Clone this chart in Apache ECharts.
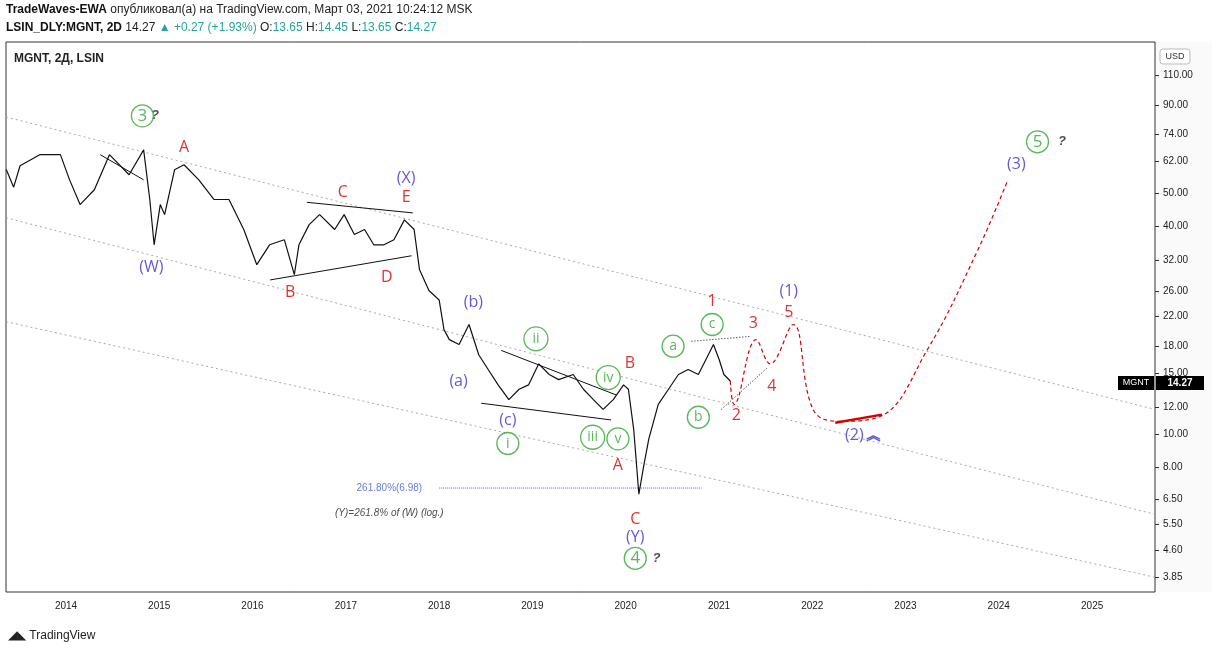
<!DOCTYPE html>
<html><head><meta charset="utf-8">
<script src="https://cdn.jsdelivr.net/npm/echarts@6/dist/echarts.min.js"></script>
<style>html,body{margin:0;padding:0;background:#fff;font-family:"Open Sans",Roboto,sans-serif}#c{width:1212px;height:657px}</style>
</head><body><div id="c"></div>
<script>
// price path (date, price)
const priceDates = ["2013-05-12","2013-06-10","2013-07-05","2013-09-20","2013-12-10","2014-01-15","2014-02-25","2014-04-22","2014-06-20","2014-09-05","2014-11-01","2014-11-25","2014-12-12","2015-01-05","2015-01-22","2015-03-02","2015-04-08","2015-06-05","2015-08-03","2015-10-01","2015-11-28","2016-01-18","2016-03-08","2016-05-05","2016-06-13","2016-07-01","2016-08-10","2016-09-20","2016-11-18","2016-12-25","2017-02-03","2017-03-15","2017-04-20","2017-05-30","2017-07-08","2017-08-18","2017-09-25","2017-10-16","2017-11-22","2018-01-01","2018-01-20","2018-02-10","2018-03-20","2018-04-28","2018-06-05","2018-07-12","2018-08-20","2018-10-01","2018-11-10","2018-12-17","2019-01-26","2019-03-08","2019-04-14","2019-06-10","2019-07-20","2019-08-28","2019-10-05","2019-11-14","2019-12-24","2020-01-12","2020-02-02","2020-02-22","2020-03-12","2020-04-01","2020-05-08","2020-06-17","2020-07-26","2020-09-02","2020-10-12","2020-11-20","2020-12-10","2021-01-01","2021-01-20","2021-02-14"];
const priceValues = [58.5,52.0,60.0,64.6,64.6,54.6,46.3,51.1,64.6,56.5,66.7,47.9,35.4,46.3,43.3,58.4,60.4,54.6,47.9,47.9,39.2,31.0,35.4,36.6,29.0,35.4,40.5,43.3,39.2,43.3,37.9,39.2,35.4,35.4,36.6,41.8,39.2,30.0,26.1,24.5,20.1,18.8,18.2,20.8,17.0,15.4,13.9,12.6,13.5,13.9,16.0,14.9,14.4,14.9,13.5,12.6,11.8,12.6,13.9,13.5,10.3,6.7,8.1,9.7,12.2,13.5,14.9,15.4,14.9,17.0,18.2,16.5,14.9,14.27];
// projected path
const projDates = ["2021-02-14","2021-03-01","2021-05-26","2021-07-20","2021-10-18","2022-01-04","2022-04-12","2022-09-16","2023-03-28","2023-10-12","2024-02-06"];
const projValues = [14.27,12.2,18.8,16.0,20.8,11.8,10.9,11.2,17.6,34.3,54.6];
// channel lines
const chanDates = ["2013-05-11","2025-09-04"];
const chan1 = [83.1,11.8];
const chan2 = [42.4,5.86];
const chan3 = [21.2,3.85];
// trend/triangle lines
const trendLines = [
 [["2014-05-15",64.6],["2014-11-01",54.6]],
 [["2016-08-01",47.0],["2017-09-20",43.8]],
 [["2016-03-10",28.0],["2017-09-15",32.9]],
 [["2018-09-01",17.5],["2019-11-25",13.0]],
 [["2018-06-15",12.3],["2019-11-05",11.0]]
];
const dottedLines = [
 [["2020-09-15",18.6],["2021-05-01",19.2]],
 [["2021-01-10",11.8],["2021-07-10",15.6]]
];
const fibDates = ["2018-01-01","2020-10-25"];
const fibValue = 6.98;
// annotations: date, price, text, color, circled
const RED="#d50000",BLUE="#3c2fd0",GREEN="#2ea82e";
const notes = [
 ["2014-10-27",83.7,"3",GREEN,1],["2015-04-08",67.6,"A",RED,0],["2014-12-01",30.4,"(W)",BLUE,0],
 ["2016-12-20",50.1,"C",RED,0],["2017-08-25",55,"(X)",BLUE,0],["2017-08-25",48.6,"E",RED,0],
 ["2016-05-28",25.8,"B",RED,0],["2017-06-10",28.4,"D",RED,0],["2018-05-15",24.1,"(b)",BLUE,0],
 ["2018-03-18",14.2,"(a)",BLUE,0],["2018-09-27",11.0,"(c)",BLUE,0],["2018-09-27",9.4,"i",GREEN,1],
 ["2019-01-15",18.9,"ii",GREEN,1],["2019-08-25",9.8,"iii",GREEN,1],["2019-10-25",14.6,"iv",GREEN,1],
 ["2019-12-02",9.7,"v",GREEN,1],["2020-01-18",16.0,"B",RED,0],["2019-12-02",8.1,"A",RED,0],
 ["2020-02-08",5.66,"C",RED,0],["2020-02-08",5.03,"(Y)",BLUE,0],["2020-02-08",4.37,"4",GREEN,1],
 ["2020-07-05",18.0,"a",GREEN,1],["2020-10-12",11.2,"b",GREEN,1],["2020-12-05",20.8,"c",GREEN,1],
 ["2020-12-05",24.2,"1",RED,0],["2021-03-10",11.3,"2",RED,0],["2021-05-15",20.9,"3",RED,0],
 ["2021-07-27",13.8,"4",RED,0],["2021-10-01",22.6,"5",RED,0],["2021-10-01",25.9,"(1)",BLUE,0],
 ["2022-06-15",9.9,"(2)",BLUE,0],["2024-03-10",60.4,"(3)",BLUE,0],["2024-06-01",70.4,"5",GREEN,1]
];
const questions = [["2014-12-15",83.7],["2020-05-01",4.37],["2024-09-05",70.4]];
const yTicks=[3.85,4.6,5.5,6.5,8,10,12,15,18,22,26,32,40,50,62,74,90,110];
const xTicks=["2014-01-01","2015-01-01","2016-01-01","2017-01-01","2018-01-01","2019-01-01","2020-01-01","2021-01-01","2022-01-01","2023-01-01","2024-01-01","2025-01-01"];

const zip=(d,v)=>d.map((x,i)=>[x,v[i]]);
const series=[];
[chan1,chan2,chan3].forEach(c=>series.push({type:'line',data:zip(chanDates,c),symbol:'none',silent:true,lineStyle:{color:'#aaa',width:1,type:[2,3]}}));
trendLines.forEach(l=>series.push({type:'line',data:l,symbol:'none',lineStyle:{color:'#111',width:1}}));
dottedLines.forEach(l=>series.push({type:'line',data:l,symbol:'none',lineStyle:{color:'#111',width:1,type:[1,2]}}));
series.push({type:'line',data:zip(fibDates,[fibValue,fibValue]),symbol:'none',lineStyle:{color:'#9db3f5',width:2,type:[1,1]}});
series.push({type:'line',data:zip(priceDates,priceValues),symbol:'none',lineStyle:{color:'#111',width:1.2}});
series.push({type:'line',data:zip(projDates,projValues),symbol:'none',smooth:0.4,lineStyle:{color:RED,width:1.2,type:[4,3]}});
series.push({type:'line',data:[["2022-04-01",10.8],["2022-10-01",11.4]],symbol:'none',lineStyle:{color:RED,width:2.5}});
series.push({type:'scatter',z:10,data:notes.map(n=>({value:[n[0],n[1]],symbol:'circle',symbolSize:n[4]?(n[2].length>1?24:22):1,
  itemStyle:{color:'#fff',borderColor:n[4]?n[3]:'transparent',borderWidth:1.3},
  label:{show:true,position:'inside',formatter:n[2],color:n[3],fontSize:n[4]?(/\d/.test(n[2])?17:14):16,fontFamily:'"Open Sans",sans-serif'}}))});
series.push({type:'scatter',data:questions,symbolSize:1,itemStyle:{color:'transparent'},label:{show:true,position:'inside',formatter:'?',fontStyle:'italic',fontWeight:'bold',color:'#222',fontSize:13}});
series.push({type:'scatter',data:[["2017-06-20",fibValue]],symbolSize:1,itemStyle:{color:'transparent'},label:{show:true,position:'inside',formatter:'261.80%(6.98)',color:'#3c5bd8',fontSize:10}});
series.push({type:'scatter',data:[["2017-06-20",5.9]],symbolSize:1,itemStyle:{color:'transparent'},label:{show:true,position:'inside',formatter:'(Y)=261.8% of (W) (log.)',color:'#222',fontStyle:'italic',fontSize:10}});
series.push({type:'scatter',data:[["2022-09-01",9.9]],symbolSize:1,itemStyle:{color:'transparent'},label:{show:true,position:'inside',formatter:'︽',color:BLUE,fontSize:16,fontWeight:'bold'}});

const chart=echarts.init(document.getElementById('c'));
chart.setOption({
 animation:false,backgroundColor:'#fff',
 grid:{left:6,right:57,top:42,bottom:65,show:true,borderColor:'#333',borderWidth:1},
 xAxis:{type:'time',min:'2013-05-11',max:'2025-09-04',splitLine:{show:false},axisLine:{show:false},
   axisTick:{show:false},axisLabel:{customValues:xTicks,formatter:'{yyyy}',color:'#222',fontSize:10,margin:9}},
 yAxis:{type:'log',logBase:10,position:'right',min:3.49,max:137,splitLine:{show:false},axisLine:{show:false},
   axisTick:{show:true,customValues:yTicks,length:4,lineStyle:{color:'#333'}},
   axisLabel:{customValues:yTicks,formatter:v=>v.toFixed(2),color:'#222',fontSize:10,margin:8}},
 series:series,
 graphic:[
  {type:'rect',shape:{x:1155,y:42,width:57,height:550},style:{fill:'#fafafa'},z:-1},
  {type:'text',left:6,top:4,style:{text:'{b|TradeWaves-EWA} опубликовал(а) на TradingView.com, Март 03, 2021 10:24:12 MSK',rich:{b:{fontWeight:'bold',fontSize:12,fill:'#111'}},fontSize:12,fill:'#222'}},
  {type:'text',left:6,top:22,style:{text:'{b|LSIN_DLY:MGNT, 2D} 14.27 {g|▲ +0.27 (+1.93%)} O:{g|13.65} H:{g|14.45} L:{g|13.65} C:{g|14.27}',rich:{b:{fontWeight:'bold',fontSize:12,fill:'#111'},g:{fill:'#26a69a',fontSize:12}},fontSize:12,fill:'#222'}},
  {type:'text',left:14,top:53,style:{text:'MGNT, 2Д, LSIN',fontWeight:'bold',fontSize:12,fill:'#222'}},
  {type:'rect',shape:{x:1160,y:49,width:30,height:15,r:3},style:{fill:'#fff',stroke:'#bbb'}},
  {type:'text',x:1175,y:57,style:{text:'USD',fontSize:9,fill:'#333',align:'center',verticalAlign:'middle'}},
  {type:'rect',shape:{x:1118,y:376,width:36,height:14},style:{fill:'#000'}},
  {type:'text',x:1136,y:383,style:{text:'MGNT',fontSize:9,fill:'#fff',align:'center',verticalAlign:'middle'}},
  {type:'rect',shape:{x:1156,y:376,width:48,height:14},style:{fill:'#000'}},
  {type:'text',x:1180,y:383,style:{text:'14.27',fontSize:10,fontWeight:'bold',fill:'#fff',align:'center',verticalAlign:'middle'}},
  {type:'text',left:8,top:630,style:{text:'◢◣ TradingView',fontSize:12,fill:'#222'}}
 ]
});
</script></body></html>
